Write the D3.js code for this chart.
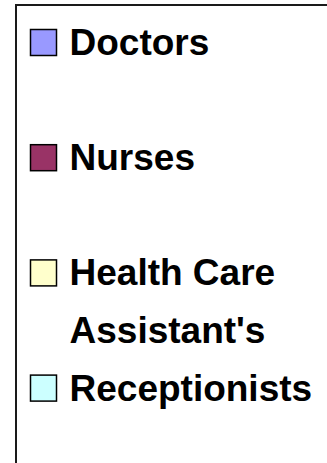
<!DOCTYPE html>
<html>
<head>
<meta charset="utf-8">
<script src="https://cdn.jsdelivr.net/npm/d3@7"></script>
<style>
  html, body { margin: 0; padding: 0; background: #fff; }
  svg { display: block; }
</style>
</head>
<body>
<script>
// Staff groups shown in the legend, with their series fills
const categories = [["Doctors"], ["Nurses"], ["Health Care", "Assistant's"], ["Receptionists"]];
const seriesNames = ["Doctors", "Nurses", "Health Care Assistant's", "Receptionists"];
const seriesColors = ["#9999FF", "#993366", "#FFFFCC", "#CCFFFF"];

const W = 327, H = 463;
const svg = d3.select("body").append("svg").attr("width", W).attr("height", H);

// Legend frame (top and left edges visible)
svg.append("path")
  .attr("d", `M16,${H} L16,5 L${W},5`)
  .attr("fill", "none")
  .attr("stroke", "#1a1a1a")
  .attr("stroke-width", 2);

// Each entry takes two text-line slots; baseline position per slot
const lineY = d3.scaleLinear().domain([0, 1]).range([55, 112.6]);
const color = d3.scaleOrdinal().domain(seriesNames).range(seriesColors);

const swatch = 26;
const items = svg.selectAll("g.item")
  .data(seriesNames.map((name, i) => ({ name, lines: categories[i], slot: i * 2 })))
  .join("g")
  .attr("class", "item");

items.append("rect")
  .attr("x", 30.5)
  .attr("y", d => lineY(d.slot) - swatch + 0.5)
  .attr("width", swatch)
  .attr("height", swatch)
  .attr("fill", d => color(d.name))
  .attr("stroke", "#000")
  .attr("stroke-width", 1.5);

items.each(function(d) {
  const t = d3.select(this).append("text")
    .attr("font-family", "'Liberation Sans', Arial, sans-serif")
    .attr("font-weight", "bold")
    .attr("font-size", 37)
    .attr("fill", "#000");
  t.selectAll("tspan")
    .data(d.lines.map((s, k) => ({ s, y: lineY(d.slot + k) })))
    .join("tspan")
    .attr("x", 69.5)
    .attr("y", e => e.y)
    .text(e => e.s);
});
</script>
</body>
</html>
